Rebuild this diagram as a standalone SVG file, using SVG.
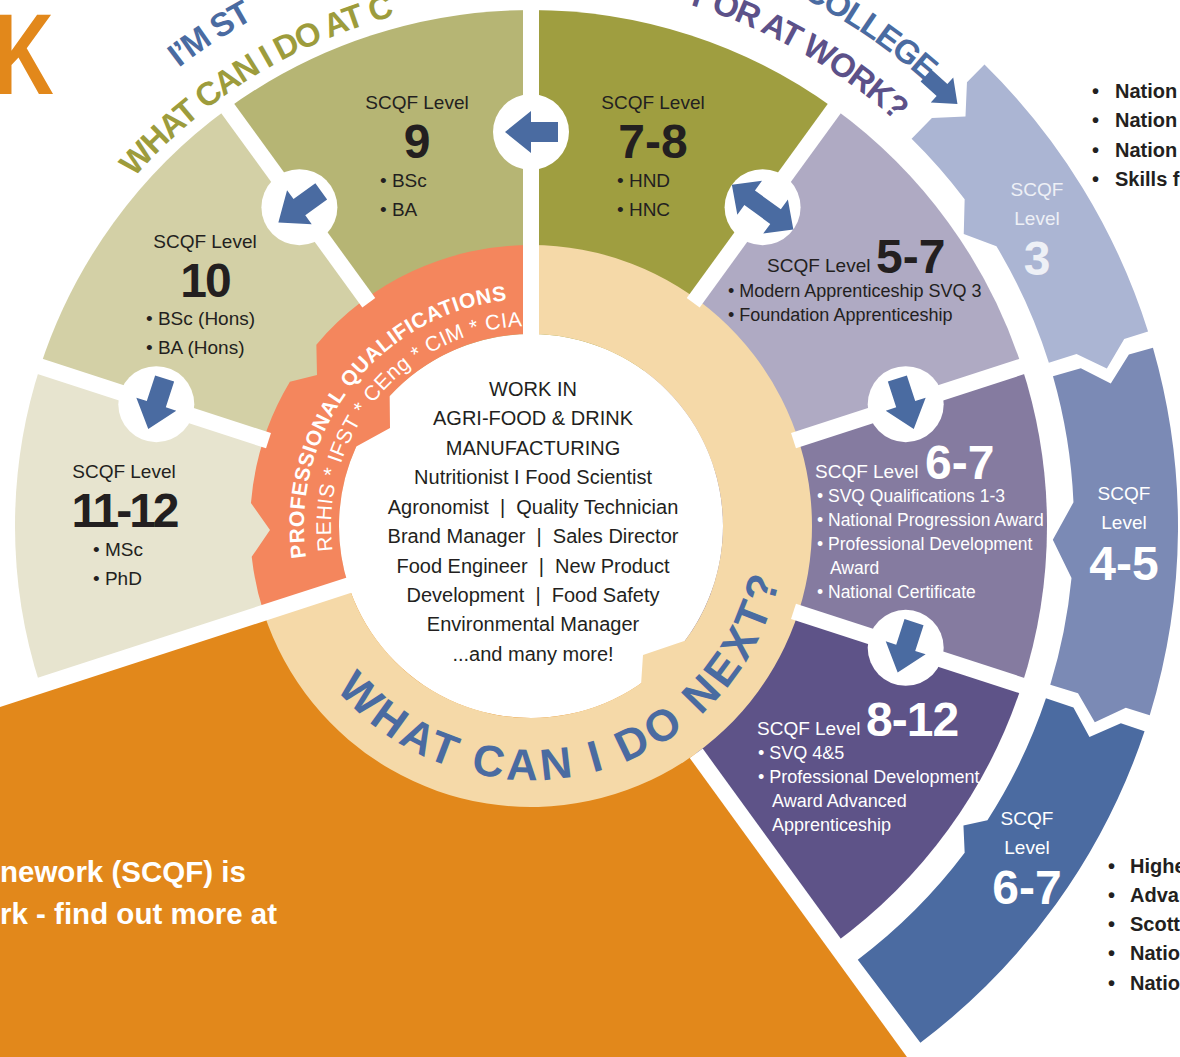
<svg xmlns="http://www.w3.org/2000/svg" width="1180" height="1057" viewBox="0 0 1180 1057">
<defs>
<style>
text{font-family:"Liberation Sans",Arial,sans-serif;}
.d{fill:#231f20}
.w{fill:#ffffff}
.lv{font-size:19px}
.it{font-size:19px}
.it2{font-size:18px}
.it3{font-size:17.5px}
.bg{font-size:48px;font-weight:bold}
.ctr{font-size:20px;fill:#231f20;text-anchor:middle}
.side{font-size:20px;font-weight:bold;fill:#231f20}
.arc{font-weight:bold;font-size:33px}
.gap{stroke:#ffffff;stroke-width:16;fill:none}
.hole{fill:#ffffff}
.arr{fill:#4a6ba1}
.m{text-anchor:middle}
</style>
<path id="arrow" d="M-27,-10 L0,-10 L0,-21 L26,0 L0,21 L0,10 L-27,10 Z"/>
<path id="darrow" d="M-38,0 L-16,-21 L-16,-9 L16,-9 L16,-21 L38,0 L16,21 L16,9 L-16,9 L-16,21 Z"/>
<path id="arcInL" d="M98.49,223.15 A528,528 0 0 1 963.51,223.15"/>
<path id="arcInR" d="M84.56,213.40 A545,545 0 0 1 977.44,213.40"/>
<path id="arcOutL" d="M57.53,194.47 A578,578 0 0 1 1004.47,194.47"/>
<path id="arcOutR" d="M44.42,185.29 A594,594 0 0 1 1017.58,185.29"/>
<path id="pq1" d="M307.45,565.42 A227,227 0 0 1 523.08,299.14"/>
<path id="pq2" d="M334.04,560.73 A200,200 0 0 1 537.98,326.12"/>
<path id="next" d="M311.03,653 A254,254 0 0 0 785,526"/>
</defs>

<rect width="1180" height="1057" fill="#ffffff"/>

<!-- big orange area -->
<g id="footer-panel">
<path d="M531,526 L1353.9,1658.6 L531,1926 L-800.5,958.6 Z" fill="#e2881b"/>
</g>

<!-- wheel segments -->
<g id="node-level-11-12"><path d="M531,526 L40.25,685.45 A516,516 0 0 1 40.25,366.55 Z" fill="#e7e4cf"/></g>
<g id="node-level-10"><path d="M531,526 L40.25,366.55 A516,516 0 0 1 227.70,108.55 Z" fill="#d3d0a6"/></g>
<g id="node-level-9"><path d="M531,526 L227.70,108.55 A516,516 0 0 1 531,10 Z" fill="#b6b574"/></g>
<g id="node-level-7-8"><path d="M531,526 L531,10 A516,516 0 0 1 834.30,108.55 Z" fill="#9f9e40"/></g>
<g id="node-level-5-7"><path d="M531,526 L834.30,108.55 A516,516 0 0 1 1021.75,366.55 Z" fill="#afaac3"/></g>
<g id="node-level-6-7"><path d="M531,526 L1021.75,366.55 A516,516 0 0 1 1021.75,685.45 Z" fill="#857ba0"/></g>
<g id="node-level-8-12"><path d="M531,526 L1021.75,685.45 A516,516 0 0 1 834.30,943.45 Z" fill="#5e5388"/></g>

<!-- center -->
<circle cx="531" cy="526" r="192" fill="#ffffff"/>
<g id="node-professional">
<path d="M263.75,612.83 A281,281 0 0 1 251.70,556.83 L270,530 L250.94,502.97 A281,281 0 0 1 289.89,381.70 L317,375 L316.37,344.63 A281,281 0 0 1 531,245 L531,334 A192,192 0 0 0 389.67,396.04 L390,428 L356.29,446.38 A192,192 0 0 0 348.40,585.33 Z" fill="#f4865d"/>
</g>
<g id="node-next-ring">
<path d="M531,245 A281,281 0 1 1 263.75,612.83 L348.40,585.33 A192,192 0 0 0 641.13,683.28 L643,655 L684.94,640.75 A192,192 0 0 0 531,334 Z" fill="#f5d9a8"/>
</g>

<!-- connectors: gaps, circles, arrows -->
<g id="connectors">
<line class="gap" x1="354.1" y1="583.5" x2="-420.1" y2="835.0"/>
<line class="gap" x1="268.5" y1="440.7" x2="26.9" y2="362.2"/>
<line class="gap" x1="368.8" y1="302.7" x2="219.5" y2="97.2"/>
<line class="gap" x1="531" y1="340" x2="531" y2="0"/>
<line class="gap" x1="693.2" y1="302.7" x2="842.5" y2="97.2"/>
<line class="gap" x1="793.5" y1="440.7" x2="1035.1" y2="362.2"/>
<line class="gap" x1="793.5" y1="611.3" x2="1035.1" y2="689.8"/>
<line class="gap" x1="696.2" y1="753.3" x2="1118.8" y2="1335.0"/>

<circle class="hole" cx="531" cy="132" r="38"/>
<circle class="hole" cx="299.4" cy="207.2" r="38"/>
<circle class="hole" cx="156.3" cy="404.2" r="38"/>
<circle class="hole" cx="762.6" cy="207.2" r="38"/>
<circle class="hole" cx="905.7" cy="404.2" r="38"/>
<circle class="hole" cx="905.7" cy="647.8" r="38"/>

<use href="#arrow" class="arr" transform="translate(531,132) rotate(180)"/>
<use href="#arrow" class="arr" transform="translate(299.4,207.2) rotate(144)"/>
<use href="#arrow" class="arr" transform="translate(156.3,404.2) rotate(108)"/>
<use href="#darrow" class="arr" transform="translate(762.6,207.2) rotate(36)"/>
<use href="#arrow" class="arr" transform="translate(905.7,404.2) rotate(72)"/>
<use href="#arrow" class="arr" transform="translate(905.7,647.8) rotate(108)"/>
</g>

<!-- outer ring -->
<g id="node-outer-level-3">
<path transform="translate(531,526) rotate(-45.5)" d="M543,0 L572,0 L596.56,22.92 L622,0 L647,0 A647,647 0 0 1 571.27,303.75 L549.19,292.01 L515.97,300.30 L505.05,268.54 L479.44,254.92 A543,543 0 0 0 525.71,135.96 L511.52,104.07 L537.03,80.26 A543,543 0 0 0 543,0 Z" fill="#abb5d3"/>
<text class="lv m" x="1037" y="196" fill="#eef0f6">SCQF</text>
<text class="lv m" x="1037" y="225" fill="#eef0f6">Level</text>
<text class="bg m" x="1037" y="275" fill="#eef0f6">3</text>
</g>
<g id="node-outer-level-4-5">
<path transform="translate(531,526) rotate(-16)" d="M543,0 L572,0 L596.56,22.92 L622,0 L647,0 A647,647 0 0 1 542.62,352.38 L521.65,338.77 L487.83,344.13 L479.72,311.53 L455.40,295.74 A543,543 0 0 0 505.22,199.01 L497.84,156.97 L527.99,126.76 A543,543 0 0 0 543,0 Z" fill="#7b8ab5"/>
<text class="lv m w" x="1124" y="500">SCQF</text>
<text class="lv m w" x="1124" y="529">Level</text>
<text class="bg m w" x="1124" y="580">4-5</text>
</g>
<g id="node-outer-level-6-7">
<path transform="translate(531,526) rotate(18.5)" d="M543,0 L572,0 L596.56,22.92 L622,0 L647,0 A647,647 0 0 1 533.21,366.47 L447.50,307.56 A543,543 0 0 0 514.94,172.29 L505.11,146.75 L526.18,134.12 A543,543 0 0 0 543,0 Z" fill="#4b6ba1"/>
<text class="lv m w" x="1027" y="825">SCQF</text>
<text class="lv m w" x="1027" y="854">Level</text>
<text class="bg m w" x="1027" y="904">6-7</text>
</g>

<!-- arrow from heading into level 3 -->
<use href="#arrow" class="arr" stroke="#ffffff" stroke-width="4" paint-order="stroke" transform="translate(942,90) rotate(42) scale(0.8)"/>

<!-- headings on arcs -->
<g id="heading">
<text class="arc" fill="#9d9c3c" letter-spacing="-1.5"><textPath href="#arcInL" startOffset="58">WHAT CAN I DO AT C</textPath></text>
<text class="arc" fill="#5c5189" letter-spacing="-1.5" text-anchor="end"><textPath href="#arcInR" startOffset="922">T OR AT WORK?</textPath></text>
<text class="arc" fill="#4a6ba1" letter-spacing="-1.5"><textPath href="#arcOutL" startOffset="176">I’M ST</textPath></text>
<text class="arc" fill="#4a6ba1" letter-spacing="-1.5" text-anchor="end"><textPath href="#arcOutR" startOffset="1000">COLLEGE</textPath></text>
<text transform="translate(-6,94) scale(0.72,1)" font-size="115" font-weight="bold" fill="#e2881b">K</text>
</g>

<!-- segment texts -->
<g id="text-level-11-12">
<text class="d lv m" x="124" y="478">SCQF Level</text>
<text class="d bg m" x="124" y="527" letter-spacing="-3">11-12</text>
<text class="d it" x="93" y="556">• MSc</text>
<text class="d it" x="93" y="585">• PhD</text>
</g>
<g id="text-level-10">
<text class="d lv m" x="205" y="248">SCQF Level</text>
<text class="d bg m" x="205" y="297" letter-spacing="-2">10</text>
<text class="d it" x="146" y="325">• BSc (Hons)</text>
<text class="d it" x="146" y="354">• BA (Hons)</text>
</g>
<g id="text-level-9">
<text class="d lv m" x="417" y="109">SCQF Level</text>
<text class="d bg m" x="417" y="158">9</text>
<text class="d it" x="380" y="187">• BSc</text>
<text class="d it" x="380" y="216">• BA</text>
</g>
<g id="text-level-7-8">
<text class="d lv m" x="653" y="109">SCQF Level</text>
<text class="d bg m" x="653" y="158">7-8</text>
<text class="d it" x="617" y="187">• HND</text>
<text class="d it" x="617" y="216">• HNC</text>
</g>
<g id="text-level-5-7">
<text class="d lv" x="767" y="272">SCQF Level</text>
<text class="d bg" x="876" y="273">5-7</text>
<text class="d it2" x="728" y="297">• Modern Apprenticeship SVQ 3</text>
<text class="d it2" x="728" y="321">• Foundation Apprenticeship</text>
</g>
<g id="text-level-6-7">
<text class="w lv" x="815" y="478">SCQF Level</text>
<text class="w bg" x="925" y="479">6-7</text>
<text class="w it3" x="817" y="502">• SVQ Qualifications 1-3</text>
<text class="w it3" x="817" y="526">• National Progression Award</text>
<text class="w it3" x="817" y="550">• Professional Development</text>
<text class="w it3" x="830" y="574">Award</text>
<text class="w it3" x="817" y="598">• National Certificate</text>
</g>
<g id="text-level-8-12">
<text class="w lv" x="757" y="735">SCQF Level</text>
<text class="w bg" x="866" y="736" letter-spacing="-1">8-12</text>
<text class="w it2" x="758" y="759">• SVQ 4&amp;5</text>
<text class="w it2" x="758" y="783">• Professional Development</text>
<text class="w it2" x="772" y="807">Award Advanced</text>
<text class="w it2" x="772" y="831">Apprenticeship</text>
</g>

<!-- ring texts -->
<g id="text-professional">
<text fill="#ffffff" font-size="21" font-weight="bold" letter-spacing="0.6"><textPath href="#pq1" startOffset="8">PROFESSIONAL QUALIFICATIONS</textPath></text>
<text fill="#ffffff" font-size="21" letter-spacing="0.5"><textPath href="#pq2" startOffset="10">REHIS * IFST * CEng * CIM * CIA</textPath></text>
</g>
<g id="text-next">
<text fill="#4a6ba1" font-size="44" font-weight="bold" letter-spacing="4"><textPath href="#next" startOffset="44">WHAT CAN I DO NEXT?</textPath></text>
</g>

<!-- center text -->
<g id="node-work">
<text class="ctr" x="533" y="396">WORK IN</text>
<text class="ctr" x="533" y="425">AGRI-FOOD &amp; DRINK</text>
<text class="ctr" x="533" y="455">MANUFACTURING</text>
<text class="ctr" x="533" y="484">Nutritionist I Food Scientist</text>
<text class="ctr" x="533" y="514" xml:space="preserve">Agronomist  |  Quality Technician</text>
<text class="ctr" x="533" y="543" xml:space="preserve">Brand Manager  |  Sales Director</text>
<text class="ctr" x="533" y="573" xml:space="preserve">Food Engineer  |  New Product</text>
<text class="ctr" x="533" y="602" xml:space="preserve">Development  |  Food Safety</text>
<text class="ctr" x="533" y="631">Environmental Manager</text>
<text class="ctr" x="533" y="661">...and many more!</text>
</g>

<!-- side lists -->
<g id="list-top-right">
<text class="side" y="98"><tspan x="1092">•</tspan><tspan x="1115">Nation</tspan></text>
<text class="side" y="127"><tspan x="1092">•</tspan><tspan x="1115">Nation</tspan></text>
<text class="side" y="157"><tspan x="1092">•</tspan><tspan x="1115">Nation</tspan></text>
<text class="side" y="186"><tspan x="1092">•</tspan><tspan x="1115">Skills f</tspan></text>
</g>
<g id="list-bottom-right">
<text class="side" y="873"><tspan x="1108">•</tspan><tspan x="1130">Highe</tspan></text>
<text class="side" y="902"><tspan x="1108">•</tspan><tspan x="1130">Adva</tspan></text>
<text class="side" y="931"><tspan x="1108">•</tspan><tspan x="1130">Scott</tspan></text>
<text class="side" y="960"><tspan x="1108">•</tspan><tspan x="1130">Natio</tspan></text>
<text class="side" y="990"><tspan x="1108">•</tspan><tspan x="1130">Natio</tspan></text>
</g>
<g id="footer-text">
<text x="0" y="882" font-size="29.5" font-weight="bold" fill="#ffffff">nework (SCQF) is</text>
<text x="0" y="924" font-size="29.5" font-weight="bold" fill="#ffffff">rk - find out more at</text>
</g>
</svg>
